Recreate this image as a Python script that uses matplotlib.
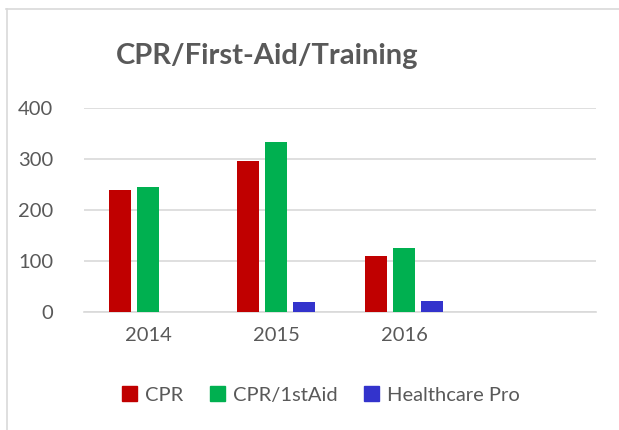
import matplotlib
matplotlib.use("Agg")
import matplotlib.pyplot as plt
from matplotlib.lines import Line2D
from matplotlib.patches import Patch
import numpy as np

categories = ["2014", "2015", "2016", ""]
series_names = ["CPR", "CPR/1stAid", "Healthcare Pro"]
cpr = [240, 296, 109, 0]
cpr_first_aid = [245, 333, 126, 0]
healthcare_pro = [0, 20, 22, 0]
colors = ["#C00000", "#00B050", "#3333CC"]

plt.rcParams['font.family'] = ['Lato', 'DejaVu Sans']
gray = "#595959"

fig = plt.figure(figsize=(6.19, 4.30), dpi=100)
ax = fig.add_axes([84/619, 1-312/430, 512/619, (312-108)/430])

x = np.arange(len(categories))
w = 0.175
step = 0.221
for i, (vals, name, c) in enumerate(zip([cpr, cpr_first_aid, healthcare_pro], series_names, colors)):
    ax.bar(x + (i-1)*step, vals, width=w, color=c, label=name, zorder=3)

ax.set_xlim(-0.5, len(categories)-0.5)
ax.set_ylim(0, 400)
ax.set_yticks([0, 100, 200, 300, 400])
ax.set_xticks(x)
ax.set_xticklabels(categories)
ax.yaxis.grid(True, color="#D9D9D9", linewidth=1.2, zorder=0)
for s in ["top", "right", "left"]:
    ax.spines[s].set_visible(False)
ax.spines["bottom"].set_color("#D9D9D9")
ax.spines["bottom"].set_linewidth(1.2)
ax.tick_params(axis="both", length=0, colors=gray, labelsize=14.5)
ax.tick_params(axis="y", pad=22)
ax.tick_params(axis="x", pad=11)

fig.text(267/619, 1-56/430, "CPR/First-Aid/Training", ha="center", va="center",
         fontsize=21, fontweight="bold", color=gray)

handles = [Patch(facecolor=c, edgecolor=c) for c in colors]
fig.legend(handles, series_names, loc="center", bbox_to_anchor=(321/619, 1-395/430),
           ncol=3, frameon=False, fontsize=14.5, labelcolor=gray,
           handlelength=0.75, handleheight=0.75, handletextpad=0.4, columnspacing=1.3)

fig.add_artist(Line2D([6/619, 1], [1-9/430, 1-9/430], color="#D9D9D9", linewidth=1.2, transform=fig.transFigure))
fig.add_artist(Line2D([7/619, 7/619], [0, 1-9/430], color="#D9D9D9", linewidth=1.2, transform=fig.transFigure))

fig.savefig("out.png", dpi=100)
